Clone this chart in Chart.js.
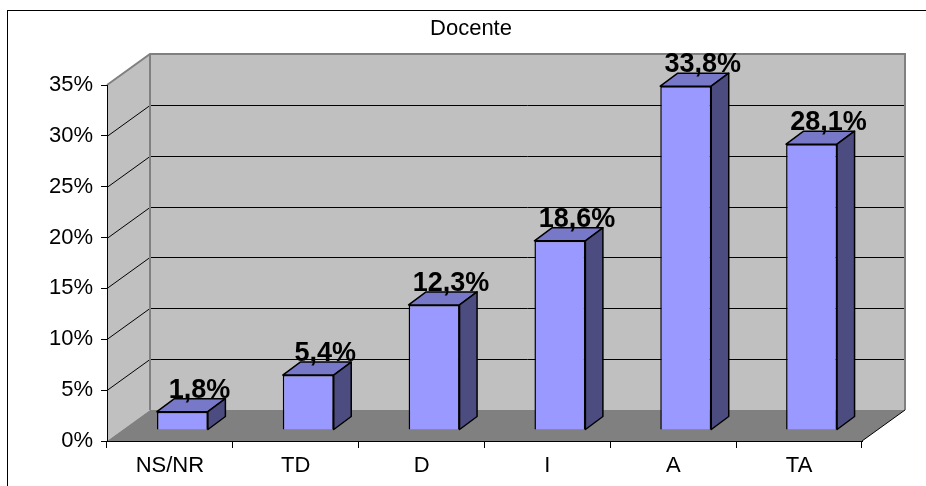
<!DOCTYPE html>
<html>
<head>
<meta charset="utf-8">
<title>Docente</title>
<script src="https://cdn.jsdelivr.net/npm/chart.js@4.4.0/dist/chart.umd.min.js"></script>
<style>
  body { margin: 0; background: #fff; }
  canvas { display: block; }
</style>
</head>
<body>
<canvas id="myChart" width="926" height="486"></canvas>
<script>
const categories = ["NS/NR", "TD", "D", "I", "A", "TA"];
const percentages = [1.8, 5.4, 12.3, 18.6, 33.8, 28.1];
const yTicks = [0, 5, 10, 15, 20, 25, 30, 35];

// 3d look: depth of the walls, where the bars sit inside it, and bar thickness
const WALL_DX = 43, WALL_DY = -31;
const BAR_SHIFT_X = 12.5, BAR_SHIFT_Y = -11;
const BAR_DX = 17.5, BAR_DY = -13;

const fmt = (v) => v.toFixed(1).replace(".", ",") + "%";

function poly(ctx, pts, fill, stroke, lw) {
  ctx.beginPath();
  ctx.moveTo(pts[0][0], pts[0][1]);
  for (let i = 1; i < pts.length; i++) ctx.lineTo(pts[i][0], pts[i][1]);
  ctx.closePath();
  if (fill) { ctx.fillStyle = fill; ctx.fill(); }
  if (stroke) { ctx.strokeStyle = stroke; ctx.lineWidth = lw || 1; ctx.stroke(); }
}

const walls3d = {
  id: "walls3d",
  afterLayout(chart) {
    // title sits centred over the whole frame, not just the plot
    const tb = chart.titleBlock;
    if (tb) { tb.left = 80; tb.width = tb.right - tb.left; }
  },
  beforeDraw(chart) {
    const ctx = chart.ctx;
    const { left: L, right: R } = chart.chartArea;
    const y = chart.scales.y;
    const y0 = y.getPixelForValue(y.min);
    const yT = y.getPixelForValue(y.max);
    ctx.save();
    // outer frame
    ctx.strokeStyle = "#000";
    ctx.lineWidth = 1;
    ctx.strokeRect(7.5, 10.5, 2000, 2000);

    // side wall, back wall, floor
    poly(ctx, [[L, yT], [L + WALL_DX, yT + WALL_DY], [L + WALL_DX, y0 + WALL_DY], [L, y0]], "#c0c0c0");
    ctx.fillStyle = "#c0c0c0";
    ctx.fillRect(L + WALL_DX, yT + WALL_DY, R - L, y0 - yT);
    poly(ctx, [[L, y0], [R, y0], [R + WALL_DX, y0 + WALL_DY], [L + WALL_DX, y0 + WALL_DY]], "#808080");

    // gridlines across both walls
    ctx.strokeStyle = "#000";
    ctx.lineWidth = 1;
    y.ticks.forEach((t) => {
      if (t.value === y.min || t.value === y.max) return;
      const py = Math.round(y.getPixelForValue(t.value)) + 0.5;
      ctx.beginPath();
      ctx.moveTo(L, py);
      ctx.lineTo(L + WALL_DX, py + WALL_DY);
      ctx.lineTo(R + WALL_DX, py + WALL_DY);
      ctx.stroke();
    });

    // wall edges
    ctx.strokeStyle = "#808080";
    ctx.lineWidth = 2;
    ctx.beginPath();
    ctx.moveTo(L, yT);
    ctx.lineTo(L + WALL_DX, yT + WALL_DY);
    ctx.lineTo(R + WALL_DX, yT + WALL_DY);
    ctx.lineTo(R + WALL_DX, y0 + WALL_DY);
    ctx.moveTo(L + WALL_DX, yT + WALL_DY);
    ctx.lineTo(L + WALL_DX, y0 + WALL_DY);
    ctx.stroke();

    ctx.strokeStyle = "#000";
    ctx.lineWidth = 1;
    ctx.beginPath();
    ctx.moveTo(R, y0);
    ctx.lineTo(R + WALL_DX, y0 + WALL_DY);
    ctx.stroke();
    ctx.restore();
  },
  beforeDatasetsDraw(chart) {
    chart.ctx.save();
    chart.ctx.translate(BAR_SHIFT_X, BAR_SHIFT_Y);
  },
  afterDatasetsDraw(chart) {
    const ctx = chart.ctx;
    ctx.restore();
    const meta = chart.getDatasetMeta(0);
    const data = chart.data.datasets[0].data;
    ctx.save();
    ctx.lineJoin = "round";
    meta.data.forEach((bar, i) => {
      const l = bar.x - bar.width / 2 + BAR_SHIFT_X;
      const r = bar.x + bar.width / 2 + BAR_SHIFT_X;
      const t = bar.y + BAR_SHIFT_Y;
      const b = bar.base + BAR_SHIFT_Y;
      poly(ctx, [[l, t], [r, t], [r + BAR_DX, t + BAR_DY], [l + BAR_DX, t + BAR_DY]], "#7878c8", "#000", 1.5);
      poly(ctx, [[r, t], [r + BAR_DX, t + BAR_DY], [r + BAR_DX, b + BAR_DY], [r, b]], "#4c4c80", "#000", 1.5);

      ctx.fillStyle = "#000";
      ctx.font = "bold 27px 'Liberation Sans', Arial, sans-serif";
      ctx.textAlign = "center";
      ctx.textBaseline = "alphabetic";
      ctx.fillText(fmt(data[i]), bar.x + BAR_SHIFT_X + 17, t - 14);
    });
    ctx.restore();
  }
};

Chart.defaults.font.family = "'Liberation Sans', Arial, sans-serif";
Chart.defaults.color = "#000";

const ctx = document.getElementById("myChart").getContext("2d");
const myChart = new Chart(ctx, {
  type: "bar",
  data: {
    labels: categories,
    datasets: [
      {
        label: "Docente",
        data: percentages,
        backgroundColor: "#9999ff",
        borderColor: "#000",
        borderWidth: 1.5,
        categoryPercentage: 1,
        barPercentage: 0.405,
        clip: false,
      },
    ],
  },
  options: {
    responsive: false,
    animation: false,
    layout: { padding: { left: 0, right: 64, top: 0, bottom: 0 } },
    plugins: {
      legend: { display: false },
      tooltip: { enabled: false },
      title: {
        display: true,
        text: "Docente",
        color: "#000",
        font: { size: 22, weight: "normal" },
        padding: { top: 16, bottom: 42.6 },
      },
    },
    scales: {
      x: {
        offset: true,
        grid: { offset: true, drawOnChartArea: false, tickLength: 7, color: "#000" },
        border: { color: "#000", width: 1 },
        ticks: { font: { size: 22 }, padding: 5, color: "#000" },
        afterFit: (scale) => { scale.height = 45; },
      },
      y: {
        min: 0,
        max: 35,
        afterBuildTicks: (scale) => { scale.ticks = yTicks.map((v) => ({ value: v })); },
        grid: { drawOnChartArea: false, tickLength: 6, color: "#000" },
        border: { color: "#000", width: 1 },
        ticks: { font: { size: 22 }, padding: 8, color: "#000", callback: (v) => v + "%" },
        afterFit: (scale) => { scale.width = 107; },
      },
    },
  },
  plugins: [walls3d],
});
</script>
</body>
</html>
